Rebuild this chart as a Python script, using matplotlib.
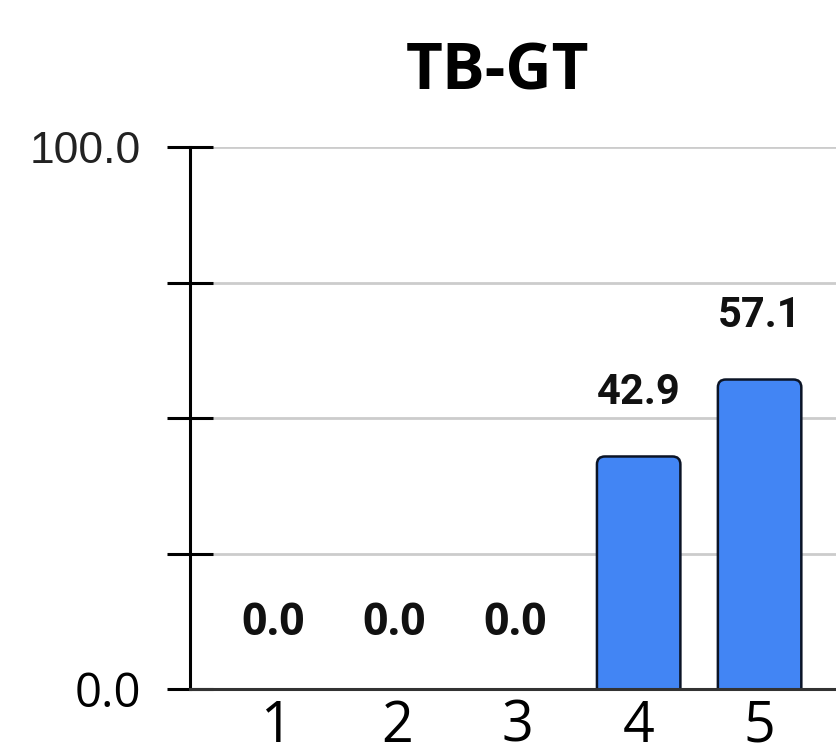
import numpy as np
import matplotlib
matplotlib.use('Agg')
import matplotlib.pyplot as plt
from matplotlib.patches import FancyBboxPatch

# data
categories = ['1', '2', '3', '4', '5']
values = [0.0, 0.0, 0.0, 42.9, 57.1]
title = 'TB-GT'
ytick_vals = [0, 25, 50, 75, 100]
ytick_text = ['0.0', '', '', '', '100.0']

bar_color = '#4285F4'
edge_color = '#0b1426'

fig = plt.figure(figsize=(8.37, 7.47), dpi=100)
ax = fig.add_axes([190 / 837, 1 - 689 / 747, 1 - 190 / 837, (689 - 147) / 747])

x = np.arange(1, len(categories) + 1)
ax.set_xlim(0.29, 5.64)
ax.set_ylim(0, 100)

# bars, then swap for rounded-top versions
bars = ax.bar(x, values, width=0.69, color=bar_color, edgecolor=edge_color, linewidth=1.8, zorder=3)
rx = 0.066
asp = 22.0
for b in bars:
    h = b.get_height()
    if h <= 0:
        continue
    bx, bw = b.get_x(), b.get_width()
    b.set_visible(False)
    p = FancyBboxPatch((bx, -5), bw, h + 5,
                       boxstyle='round,pad=0,rounding_size=%f' % rx,
                       mutation_aspect=asp, facecolor=bar_color,
                       edgecolor=edge_color, linewidth=1.8, zorder=3)
    ax.add_patch(p)

# value labels
for xi, v in zip(x, values):
    if v == 0:
        ax.annotate('%.1f' % v, (xi, v), xytext=(-2, 39), textcoords='offset points',
                    ha='center', va='baseline', fontsize=32, fontweight='bold',
                    family='Open Sans', color='#111111', zorder=4)
    else:
        ax.annotate('%.1f' % v, (xi, v), xytext=(0, 38), textcoords='offset points',
                    ha='center', va='baseline', fontsize=30, fontweight='bold',
                    family='Roboto', color='#111111', zorder=4)

# grid
for yv in ytick_vals[1:]:
    ax.axhline(yv, color='#cccccc', linewidth=2.0, zorder=1)

ax.set_yticks(ytick_vals)
ax.set_yticklabels(ytick_text)
ax.tick_params(axis='y', direction='inout', length=33, width=2.2, color='black', pad=19)
labs = ax.get_yticklabels()
labs[0].set_fontfamily('Open Sans')
labs[0].set_fontsize(34)
labs[-1].set_fontfamily('Liberation Sans')
labs[-1].set_fontsize(32)
labs[-1].set_color('#222222')

ax.set_xticks(x)
ax.set_xticklabels(categories, fontsize=40, family='Open Sans')
ax.tick_params(axis='x', length=0, pad=7)

for s in ['top', 'right']:
    ax.spines[s].set_visible(False)
ax.spines['left'].set_linewidth(2.2)
ax.spines['left'].set_color('black')
ax.spines['bottom'].set_linewidth(2.2)
ax.spines['bottom'].set_color('#333333')
ax.spines['bottom'].set_zorder(5)

fig.text(498 / 837, 1 - 90 / 747, title, ha='center', va='baseline',
         fontsize=46, fontweight='bold', family='Open Sans')

fig.savefig('out.png', dpi=100, facecolor='white')
